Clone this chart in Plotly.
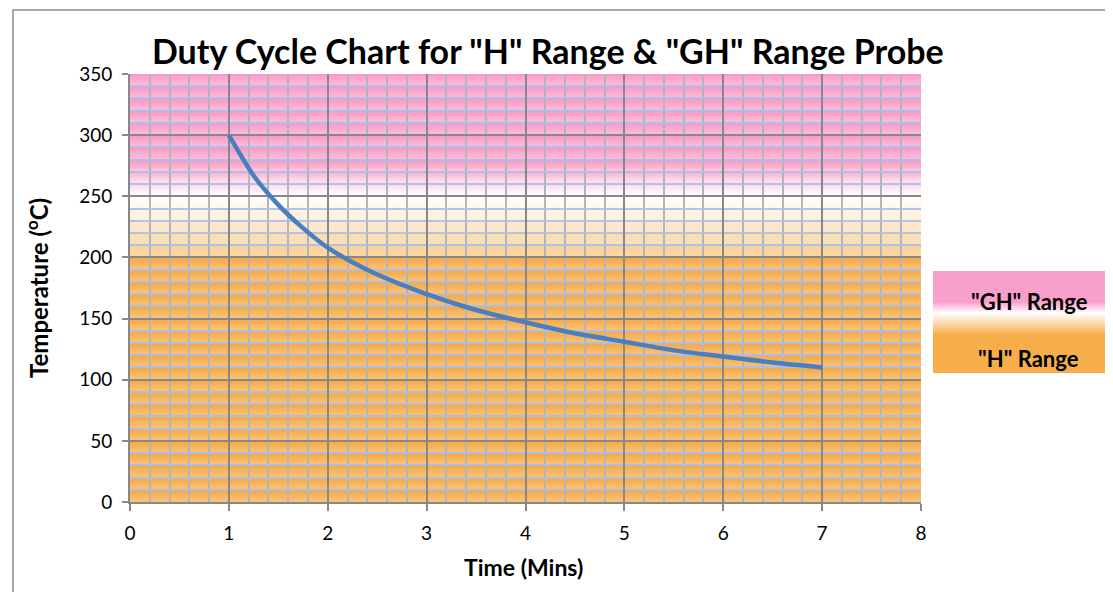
import plotly.graph_objects as go
import numpy as np

# ---------------- data ----------------
time_min = [1, 1.25, 1.5, 1.75, 2, 2.25, 2.5, 3, 3.5, 4, 4.5, 5, 5.5, 6, 6.5, 7]
temp_c = [300, 267, 243, 224, 208, 196, 186, 170, 157, 147, 138, 131, 124, 119, 114, 110]
x_ticks = [0, 1, 2, 3, 4, 5, 6, 7, 8]
y_ticks = [0, 50, 100, 150, 200, 250, 300, 350]
legend_labels = ['"GH" Range', '"H" Range']
chart_title = 'Duty Cycle Chart for "H" Range & "GH" Range Probe'
x_title = "Time (Mins)"
y_title = "Temperature (<sup>o</sup>C)"

# ---------------- layout geometry ----------------
W, H = 1113, 592
OFF = 8  # page offset of the figure inside the browser window
PL, PR, PT, PB = 130, 921, 74, 502  # plot area in window pixels
L, T = PL - OFF, PT - OFF
R, B = W - (PR - OFF), H - (PB - OFF)
PW, PH = PR - PL, PB - PT
FONT = "Lato, 'Open Sans', sans-serif"


def px(xp):
    return (xp - PL) / PW


def py(yp):
    return (PB - yp) / PH


def hex2rgb(h):
    h = h.lstrip("#")
    return tuple(int(h[i:i + 2], 16) for i in (0, 2, 4))


def lerp(c1, c2, t):
    return tuple(a + (b - a) * t for a, b in zip(c1, c2))


def rgb(c):
    return "rgb(%d,%d,%d)" % tuple(int(round(v)) for v in c)


PINK_DARK, PINK_LIGHT = hex2rgb("#f898c6"), hex2rgb("#fbc0dc")
OR_DARK, OR_LIGHT = hex2rgb("#f5a842"), hex2rgb("#f9c47d")
WHITE = (255, 255, 255)


def bg_color(y):
    frac = (y % 10) / 10.0  # 0 at band bottom, 1 at band top
    pink = lerp(PINK_LIGHT, PINK_DARK, frac)
    orange = lerp(OR_LIGHT, OR_DARK, frac)
    if y >= 250:
        w = min(1.0, (y - 250) / 25.0)
        return lerp(WHITE, pink, w)
    if y >= 200:
        t = 0.65 * (250 - y) / 50.0
        return lerp(WHITE, orange, t)
    return orange


shapes = []
ymax = y_ticks[-1]
step = 0.5
for y0 in np.arange(0, ymax, step):
    shapes.append(dict(type="rect", xref="x", yref="y", x0=x_ticks[0], x1=x_ticks[-1],
                       y0=float(y0), y1=ymax, fillcolor=rgb(bg_color(y0 + step / 2)),
                       line=dict(width=0), layer="below"))

# legend box with gradient
LEG_X0, LEG_X1, LEG_Y0, LEG_Y1 = 933, 1109, 271, 373
LPINK, LORANGE = hex2rgb("#f99fcb"), hex2rgb("#f5ae4a")


def leg_color(yp):
    if yp <= 302:
        return LPINK
    if yp <= 313:
        return lerp(LPINK, WHITE, (yp - 302) / 11.0)
    if yp <= 335:
        return lerp(WHITE, LORANGE, (yp - 313) / 22.0)
    return LORANGE


for yp in range(LEG_Y0, LEG_Y1):
    shapes.append(dict(type="rect", xref="paper", yref="paper", x0=px(LEG_X0), x1=px(LEG_X1),
                       y0=py(LEG_Y1), y1=py(yp), fillcolor=rgb(leg_color(yp + 0.5)),
                       line=dict(width=0), layer="above"))

# outer chart border
shapes.append(dict(type="rect", xref="paper", yref="paper", x0=px(13), x1=px(1106),
                   y0=py(600), y1=py(10), line=dict(color="#8c8c8c", width=1.5),
                   fillcolor="rgba(0,0,0,0)", layer="above"))

fig = go.Figure()
fig.add_trace(go.Scatter(x=time_min, y=temp_c, mode="lines",
                         line=dict(color="#4a7ebf", width=4.5, shape="spline", smoothing=0.8),
                         showlegend=False, hoverinfo="x+y"))

annotations = [
    dict(text="<b>%s</b>" % chart_title, xref="paper", yref="paper", x=px(548), y=py(50),
         showarrow=False, font=dict(family=FONT, size=34, color="black"),
         xanchor="center", yanchor="middle"),
    dict(text="<b>%s</b>" % x_title, xref="paper", yref="paper", x=px(523), y=py(567),
         showarrow=False, font=dict(family=FONT, size=23, color="black"),
         xanchor="center", yanchor="middle"),
    dict(text="<b>%s</b>" % y_title, xref="paper", yref="paper", x=px(37), y=py(288),
         showarrow=False, textangle=-90, font=dict(family=FONT, size=24, color="black"),
         xanchor="center", yanchor="middle"),
    dict(text="<b>%s</b>" % legend_labels[0], xref="paper", yref="paper", x=px(1029), y=py(301),
         showarrow=False, font=dict(family=FONT, size=22, color="black"),
         xanchor="center", yanchor="middle"),
    dict(text="<b>%s</b>" % legend_labels[1], xref="paper", yref="paper", x=px(1028), y=py(358),
         showarrow=False, font=dict(family=FONT, size=22, color="black"),
         xanchor="center", yanchor="middle"),
]

fig.update_layout(
    width=W, height=H,
    margin=dict(l=L, r=R, t=T, b=B, pad=0),
    paper_bgcolor="white", plot_bgcolor="white",
    shapes=shapes, annotations=annotations,
    font=dict(family=FONT, size=19, color="black"),
    xaxis=dict(range=[x_ticks[0], x_ticks[-1]], tickvals=x_ticks, ticks="outside", ticklen=7,
               tickwidth=2, tickcolor="#888888", showline=True, linecolor="#888888", linewidth=2,
               showgrid=True, gridcolor="#888888", gridwidth=2, zeroline=False,
               tickfont=dict(size=19), fixedrange=True, ticklabelstandoff=6,
               minor=dict(dtick=0.2, showgrid=True, gridcolor="#b5b5b5", gridwidth=2, ticks="")),
    yaxis=dict(range=[y_ticks[0], y_ticks[-1]], tickvals=y_ticks, ticks="outside", ticklen=6,
               tickwidth=2, tickcolor="#888888", showline=True, linecolor="#888888", linewidth=2,
               showgrid=True, gridcolor="#888888", gridwidth=2, zeroline=False,
               tickfont=dict(size=19), fixedrange=True, ticklabelstandoff=6,
               minor=dict(dtick=10, showgrid=True, gridcolor="rgba(170,190,235,0.9)",
                          gridwidth=2, ticks="")),
)

fig.write_html("out.html")
